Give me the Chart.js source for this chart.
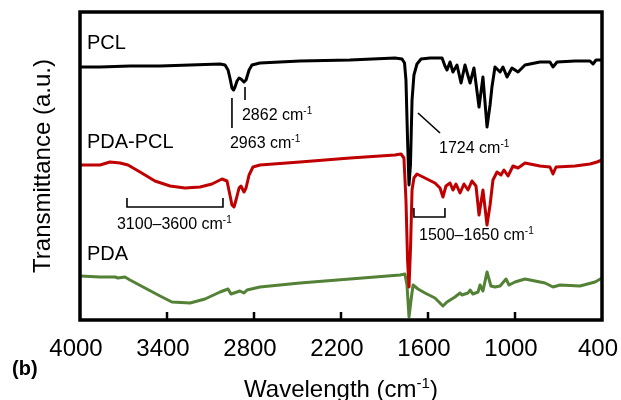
<!DOCTYPE html>
<html>
<head>
<meta charset="utf-8">
<script src="https://cdn.jsdelivr.net/npm/chart.js@4.4.1/dist/chart.umd.min.js"></script>
<style>
  html, body { margin: 0; padding: 0; background: #fff; }
  #wrap { width: 621px; height: 400px; position: relative; }
</style>
</head>
<body>
<div id="wrap"><canvas id="ftir"></canvas></div>
<script>
// FTIR spectra, wavenumber (cm-1) vs transmittance (a.u., offset traces)
const pclWavenumber = [4000, 3862, 3655, 3448, 3241, 3034, 3000, 2979, 2966, 2952, 2941, 2931, 2917, 2903, 2890, 2869, 2855, 2834, 2814, 2759, 2483, 2138, 1828, 1779, 1762, 1752, 1741, 1731, 1721, 1710, 1697, 1676, 1648, 1586, 1503, 1483, 1469, 1448, 1428, 1400, 1372, 1345, 1310, 1283, 1248, 1221, 1193, 1172, 1159, 1138, 1103, 1083, 1055, 1021, 979, 931, 828, 759, 738, 710, 586, 483, 462, 441, 400];
const pclSignal = [253, 253, 254, 254, 255, 256, 255, 250, 242, 232, 230, 233, 239, 242, 241, 238, 240, 250, 255, 257, 259, 260, 262, 261, 257, 240, 180, 135, 155, 220, 245, 256, 261, 262, 262, 254, 250, 258, 248, 255, 237, 255, 237, 252, 213, 243, 193, 215, 233, 253, 248, 253, 243, 252, 248, 255, 258, 258, 253, 258, 259, 259, 256, 260, 260];

const pdaPclWavenumber = [4000, 3862, 3793, 3724, 3669, 3586, 3483, 3379, 3276, 3172, 3090, 3021, 2986, 2966, 2952, 2938, 2924, 2903, 2890, 2869, 2855, 2834, 2807, 2759, 2483, 2138, 1828, 1786, 1766, 1752, 1741, 1731, 1721, 1710, 1697, 1676, 1621, 1552, 1517, 1497, 1476, 1448, 1428, 1407, 1379, 1352, 1324, 1297, 1269, 1248, 1221, 1193, 1172, 1152, 1124, 1097, 1076, 1048, 1014, 979, 931, 828, 759, 738, 717, 586, 483, 434, 400];
const pdaPclSignal = [155, 155, 158, 157, 155, 148, 139, 134, 132, 133, 136, 141, 139, 125, 115, 113, 120, 132, 134, 128, 132, 145, 153, 155, 158, 162, 165, 166, 162, 120, 60, 33, 70, 130, 142, 146, 142, 137, 132, 123, 134, 137, 130, 136, 127, 136, 130, 139, 134, 105, 130, 95, 115, 140, 148, 145, 150, 144, 154, 152, 157, 154, 153, 146, 153, 154, 156, 158, 160];

const pdaWavenumber = [4000, 3862, 3759, 3738, 3690, 3655, 3552, 3448, 3366, 3241, 3138, 3034, 2979, 2959, 2938, 2897, 2869, 2848, 2759, 2483, 2138, 1793, 1759, 1745, 1731, 1717, 1703, 1669, 1621, 1552, 1497, 1469, 1414, 1379, 1366, 1324, 1310, 1290, 1255, 1241, 1221, 1193, 1166, 1138, 1103, 1062, 1041, 1000, 931, 862, 793, 738, 690, 552, 448, 400];
const pdaSignal = [44, 43, 43, 42, 43, 40, 32, 24, 18, 17, 21, 28, 31, 26, 27, 29, 27, 30, 33, 37, 41, 45, 46, 35, 3, 20, 35, 31, 27, 22, 14, 18, 23, 27, 25, 27, 30, 26, 28, 35, 29, 48, 34, 33, 34, 41, 35, 38, 41, 39, 37, 33, 35, 34, 38, 42];

const FONT = '"Liberation Sans", Arial, sans-serif';

const toPoints = (xs, ys) => xs.map((x, i) => ({ x, y: ys[i] }));

// text with a raised "-1" after it
function supText(ctx, x, y, main, sup, size, align) {
  ctx.font = `${size}px ${FONT}`;
  const w1 = ctx.measureText(main).width;
  const small = Math.round(size * 0.62);
  ctx.font = `${small}px ${FONT}`;
  const w2 = ctx.measureText(sup).width;
  let left = x;
  if (align === "center") left = x - (w1 + w2) / 2;
  ctx.textAlign = "left";
  ctx.font = `${size}px ${FONT}`;
  ctx.fillText(main, left, y);
  ctx.font = `${small}px ${FONT}`;
  ctx.fillText(sup, left + w1, y - size * 0.38);
  return left + w1 + w2;
}

const decorations = {
  id: "decorations",
  afterDatasetsDraw(chart) {
    const { ctx, chartArea: a, scales: { x, y } } = chart;
    const px = v => x.getPixelForValue(v);
    const py = v => y.getPixelForValue(v);
    ctx.save();
    ctx.fillStyle = "#000";
    ctx.strokeStyle = "#000";

    // frame
    ctx.lineWidth = 3.5;
    ctx.strokeRect(a.left, a.top, a.right - a.left, a.bottom - a.top);

    // inward tick marks
    ctx.lineWidth = 2.5;
    x.ticks.forEach(t => {
      if (t.value === x.min || t.value === x.max) return;
      const xx = px(t.value);
      ctx.beginPath();
      ctx.moveTo(xx, a.bottom);
      ctx.lineTo(xx, a.bottom - 8);
      ctx.stroke();
    });

    // trace names
    ctx.textBaseline = "alphabetic";
    ctx.textAlign = "left";
    ctx.font = `20px ${FONT}`;
    ctx.fillText("PCL", px(3952), py(271));
    ctx.fillText("PDA-PCL", px(3952), py(172));
    ctx.fillText("PDA", px(3952), py(60));

    // peak markers
    ctx.lineWidth = 1.6;
    const seg = pts => {
      ctx.beginPath();
      pts.forEach(([wx, wy], i) => (i ? ctx.lineTo(px(wx), py(wy)) : ctx.moveTo(px(wx), py(wy))));
      ctx.stroke();
    };
    seg([[2862, 233], [2862, 220]]);
    seg([[2952, 222], [2952, 192]]);
    seg([[1669, 207], [1517, 187]]);
    seg([[3676, 122], [3676, 113], [3014, 113], [3014, 122]]);
    seg([[1697, 112], [1697, 103], [1483, 103], [1483, 112]]);

    supText(ctx, px(2883), py(200), "2862 cm", "-1", 16);
    supText(ctx, px(2966), py(172), "2963 cm", "-1", 16);
    supText(ctx, px(1524), py(167), "1724 cm", "-1", 16);
    supText(ctx, px(3745), py(91), "3100\u20133600 cm", "-1", 16);
    supText(ctx, px(1662), py(80), "1500\u20131650 cm", "-1", 16);

    // axis titles
    const endX = supText(ctx, 0, -1000, "Wavelength (cm", "-1", 24); // measure
    ctx.font = `24px ${FONT}`;
    const full = endX + ctx.measureText(")").width;
    const startX = (a.left + a.right) / 2 - full / 2;
    const e = supText(ctx, startX, a.bottom + 77, "Wavelength (cm", "-1", 24);
    ctx.font = `24px ${FONT}`;
    ctx.fillText(")", e, a.bottom + 77);

    ctx.save();
    ctx.translate(50, (a.top + a.bottom) / 2);
    ctx.rotate(-Math.PI / 2);
    ctx.textAlign = "center";
    ctx.font = `24px ${FONT}`;
    ctx.fillText("Transmittance (a.u.)", 0, 0);
    ctx.restore();

    ctx.font = `bold 20px ${FONT}`;
    ctx.textAlign = "left";
    ctx.fillText("(b)", 12, a.bottom + 55);
    ctx.restore();
  }
};

const lineStyle = color => ({
  borderColor: color,
  backgroundColor: color,
  borderWidth: 3,
  borderJoinStyle: "round",
  borderCapStyle: "round",
  pointRadius: 0,
  tension: 0,
  fill: false
});

new Chart(document.getElementById("ftir"), {
  type: "line",
  data: {
    datasets: [
      { label: "PDA-PCL", data: toPoints(pdaPclWavenumber, pdaPclSignal), order: 0, ...lineStyle("#c00000") },
      { label: "PCL", data: toPoints(pclWavenumber, pclSignal), order: 1, ...lineStyle("#000000") },
      { label: "PDA", data: toPoints(pdaWavenumber, pdaSignal), order: 2, ...lineStyle("#538135") }
    ]
  },
  options: {
    responsive: true,
    maintainAspectRatio: false,
    animation: false,
    layout: { padding: { left: 80, right: 19, top: 12, bottom: 36 } },
    plugins: {
      legend: { display: false },
      tooltip: { enabled: false }
    },
    scales: {
      x: {
        type: "linear",
        reverse: true,
        min: 400,
        max: 4000,
        grid: { display: false, drawTicks: false },
        border: { display: false },
        afterFit: scale => {
          scale.height = 44;
          scale.paddingLeft = 0;
          scale.paddingRight = 0;
        },
        ticks: {
          stepSize: 600,
          padding: 15,
          labelOffset: -4,
          color: "#000",
          font: { family: FONT, size: 24 },
          maxRotation: 0,
          callback: v => String(v)
        }
      },
      y: {
        display: false,
        min: 0,
        max: 308
      }
    }
  },
  plugins: [decorations]
});
</script>
</body>
</html>
